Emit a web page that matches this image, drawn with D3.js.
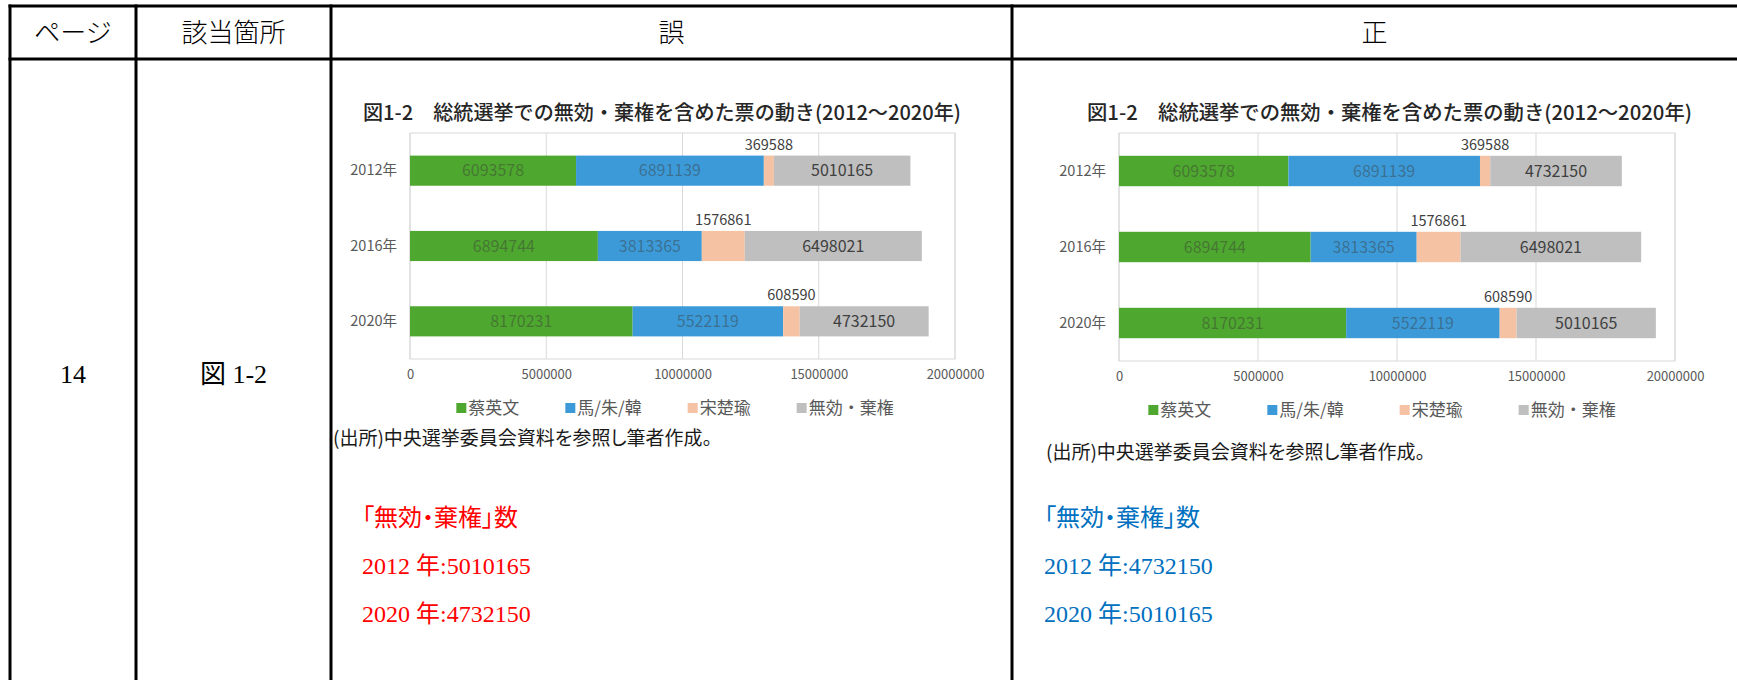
<!DOCTYPE html>
<html>
<head>
<meta charset="utf-8">
<script src="https://cdn.jsdelivr.net/npm/d3@7"></script>
<style>
  html, body { margin: 0; padding: 0; background: #fff; }
  svg { display: block; }
  .palt { font-feature-settings: "palt"; }
</style>
</head>
<body>
<div id="page"></div>
<script>
// chart data
var years = ["2012年", "2016年", "2020年"];
var parties = ["蔡英文", "馬/朱/韓", "宋楚瑜", "無効・棄権"];
var tsai = [6093578, 6894744, 8170231];
var maZhuHan = [6891139, 3813365, 5522119];
var soong = [369588, 1576861, 608590];
var invalidWrong = [5010165, 6498021, 4732150];
var invalidRight = [4732150, 6498021, 5010165];
var xTicks = [0, 5000000, 10000000, 15000000, 20000000];

var headers = ["ページ", "該当箇所", "誤", "正"];
var noteWrong = ["「無効・棄権」数", "2012 年:5010165", "2020 年:4732150"];
var noteRight = ["「無効・棄権」数", "2012 年:4732150", "2020 年:5010165"];

var colors = ["#4ea72e", "#3c9ad8", "#f5c2a4", "#bfbfbf"];
var width = 1737, height = 680;
var cjk = "'Noto Sans CJK JP', sans-serif";
var narrow = "'Liberation Sans Narrow', 'Noto Sans CJK JP', sans-serif";
var serif = "'Liberation Serif', 'Noto Sans CJK JP', serif";

var svg = d3.select("#page").append("svg")
  .attr("width", width)
  .attr("height", height);

// table frame
var colX = [10, 136, 331, 1012, width];
var tableTop = 6, headBottom = 59;
var frame = svg.append("g").attr("stroke", "#000").attr("stroke-width", 3);
frame.append("line").attr("x1", colX[0] - 1.5).attr("x2", width).attr("y1", tableTop).attr("y2", tableTop);
frame.append("line").attr("x1", colX[0] - 1.5).attr("x2", width).attr("y1", headBottom).attr("y2", headBottom);
colX.slice(0, 4).forEach(function (cx) {
  frame.append("line").attr("x1", cx).attr("x2", cx).attr("y1", tableTop - 1.5).attr("y2", height);
});

svg.append("g").selectAll("text")
  .data(headers)
  .enter()
  .append("text")
  .attr("x", (d, i) => (colX[i] + colX[i + 1]) / 2)
  .attr("y", 42)
  .attr("text-anchor", "middle")
  .attr("font-family", cjk)
  .attr("font-weight", 300)
  .attr("font-size", 26)
  .attr("fill", "#000")
  .text(d => d);

svg.append("text")
  .attr("x", (colX[0] + colX[1]) / 2).attr("y", 383)
  .attr("text-anchor", "middle")
  .attr("font-family", serif).attr("font-size", 26)
  .text("14");
svg.append("text")
  .attr("x", (colX[1] + colX[2]) / 2).attr("y", 383)
  .attr("text-anchor", "middle")
  .attr("font-family", serif).attr("font-size", 26)
  .text("図 1-2");

function drawChart(cfg, invalid) {
  var rows = years.map(function (y, i) {
    return { year: y, a: tsai[i], b: maZhuHan[i], c: soong[i], d: invalid[i] };
  });
  var keys = ["a", "b", "c", "d"];
  var series = d3.stack().keys(keys)(rows);

  var x = d3.scaleLinear().domain([0, 20000000]).range([cfg.left, cfg.right]);
  var y = d3.scaleBand().domain(years).range([cfg.top, cfg.bottom])
    .paddingInner(0.6).paddingOuter(0.3);

  var g = svg.append("g");

  g.append("text")
    .attr("x", cfg.titleX).attr("y", cfg.titleY)
    .attr("font-family", cjk).attr("font-weight", 500)
    .attr("font-size", 20).attr("fill", "#262626")
    .attr("textLength", cfg.titleLen).attr("lengthAdjust", "spacingAndGlyphs")
    .text("図1-2　総統選挙での無効・棄権を含めた票の動き(2012～2020年)");

  // plot area + grid
  g.append("rect")
    .attr("x", cfg.left).attr("y", cfg.top)
    .attr("width", cfg.right - cfg.left).attr("height", cfg.bottom - cfg.top)
    .attr("fill", "none").attr("stroke", "#d9d9d9");
  g.append("g").selectAll("line")
    .data(xTicks)
    .enter()
    .append("line")
    .attr("x1", d => x(d)).attr("x2", d => x(d))
    .attr("y1", cfg.top).attr("y2", cfg.bottom)
    .attr("stroke", "#d9d9d9");

  var xAxis = g.append("g")
    .attr("transform", "translate(0," + cfg.bottom + ")")
    .call(d3.axisBottom(x).tickValues(xTicks).tickSize(0).tickPadding(11).tickFormat(d3.format("d")));
  xAxis.select(".domain").remove();
  xAxis.selectAll("text").attr("font-family", narrow).attr("font-size", 13).attr("fill", "#595959");

  var yAxis = g.append("g")
    .attr("transform", "translate(" + cfg.left + ",0)")
    .call(d3.axisLeft(y).tickSize(0).tickPadding(13));
  yAxis.select(".domain").remove();
  yAxis.selectAll("text").attr("font-family", narrow).attr("font-size", 14.5).attr("fill", "#595959");

  var layer = g.append("g").selectAll("g")
    .data(series)
    .enter()
    .append("g")
    .attr("fill", (d, i) => colors[i]);

  layer.selectAll("rect")
    .data(d => d)
    .enter()
    .append("rect")
    .attr("x", d => x(d[0]))
    .attr("y", d => y(d.data.year))
    .attr("width", d => x(d[1]) - x(d[0]))
    .attr("height", y.bandwidth());

  // value labels: inside for most, above the bar for the small 宋楚瑜 part
  layer.selectAll("text")
    .data((s, i) => s.map(d => ({ d: d, k: i })))
    .enter()
    .append("text")
    .attr("x", o => (x(o.d[0]) + x(o.d[1])) / 2)
    .attr("y", o => o.k === 2 ? y(o.d.data.year) - 6 : y(o.d.data.year) + y.bandwidth() / 2 + 5.5)
    .attr("text-anchor", "middle")
    .attr("font-family", narrow)
    .attr("font-size", o => o.k === 2 ? 14.5 : 16)
    .attr("fill", o => o.k === 3 || o.k === 2 ? "#404040" : "#3a3a3a")
    .attr("fill-opacity", o => o.k < 2 ? 0.45 : 1)
    .text(o => o.d[1] - o.d[0]);

  // legend
  var legend = g.append("g").attr("transform", "translate(0," + cfg.legendY + ")");
  var items = legend.selectAll("g")
    .data(parties)
    .enter()
    .append("g");
  items.append("rect")
    .attr("y", -5).attr("width", 10).attr("height", 10)
    .attr("fill", (d, i) => colors[i]);
  items.append("text")
    .attr("x", 12).attr("y", 6)
    .attr("font-family", cjk).attr("font-size", 17).attr("fill", "#595959")
    .text(d => d);
  var pos = 0, offsets = [];
  items.each(function () {
    offsets.push(pos);
    pos += this.getBBox().width + cfg.legendGap;
  });
  var total = pos - cfg.legendGap;
  items.attr("transform", (d, i) => "translate(" + (cfg.legendCenter - total / 2 + offsets[i]) + ",0)");

  g.append("text")
    .attr("class", "palt")
    .attr("x", cfg.srcX).attr("y", cfg.srcY)
    .attr("font-family", cjk).attr("font-size", 19).attr("fill", "#1a1a1a")
    .text("(出所)中央選挙委員会資料を参照し筆者作成。");
}

drawChart({
  left: 410, right: 955, top: 133, bottom: 359,
  titleX: 363, titleY: 120, titleLen: 598,
  legendY: 408, legendCenter: 675, legendGap: 46,
  srcX: 333, srcY: 445
}, invalidWrong);

drawChart({
  left: 1119, right: 1675, top: 133, bottom: 361,
  titleX: 1087, titleY: 120, titleLen: 605,
  legendY: 410, legendCenter: 1382, legendGap: 56,
  srcX: 1046, srcY: 459
}, invalidRight);

function drawNote(lines, x0, color) {
  svg.append("g").selectAll("text")
    .data(lines)
    .enter()
    .append("text")
    .attr("class", "palt")
    .attr("x", x0)
    .attr("y", (d, i) => 526 + i * 48)
    .attr("font-family", serif)
    .attr("font-size", 24)
    .attr("fill", color)
    .text(d => d);
}
drawNote(noteWrong, 362, "#ff0000");
drawNote(noteRight, 1044, "#0070c0");
</script>
</body>
</html>
